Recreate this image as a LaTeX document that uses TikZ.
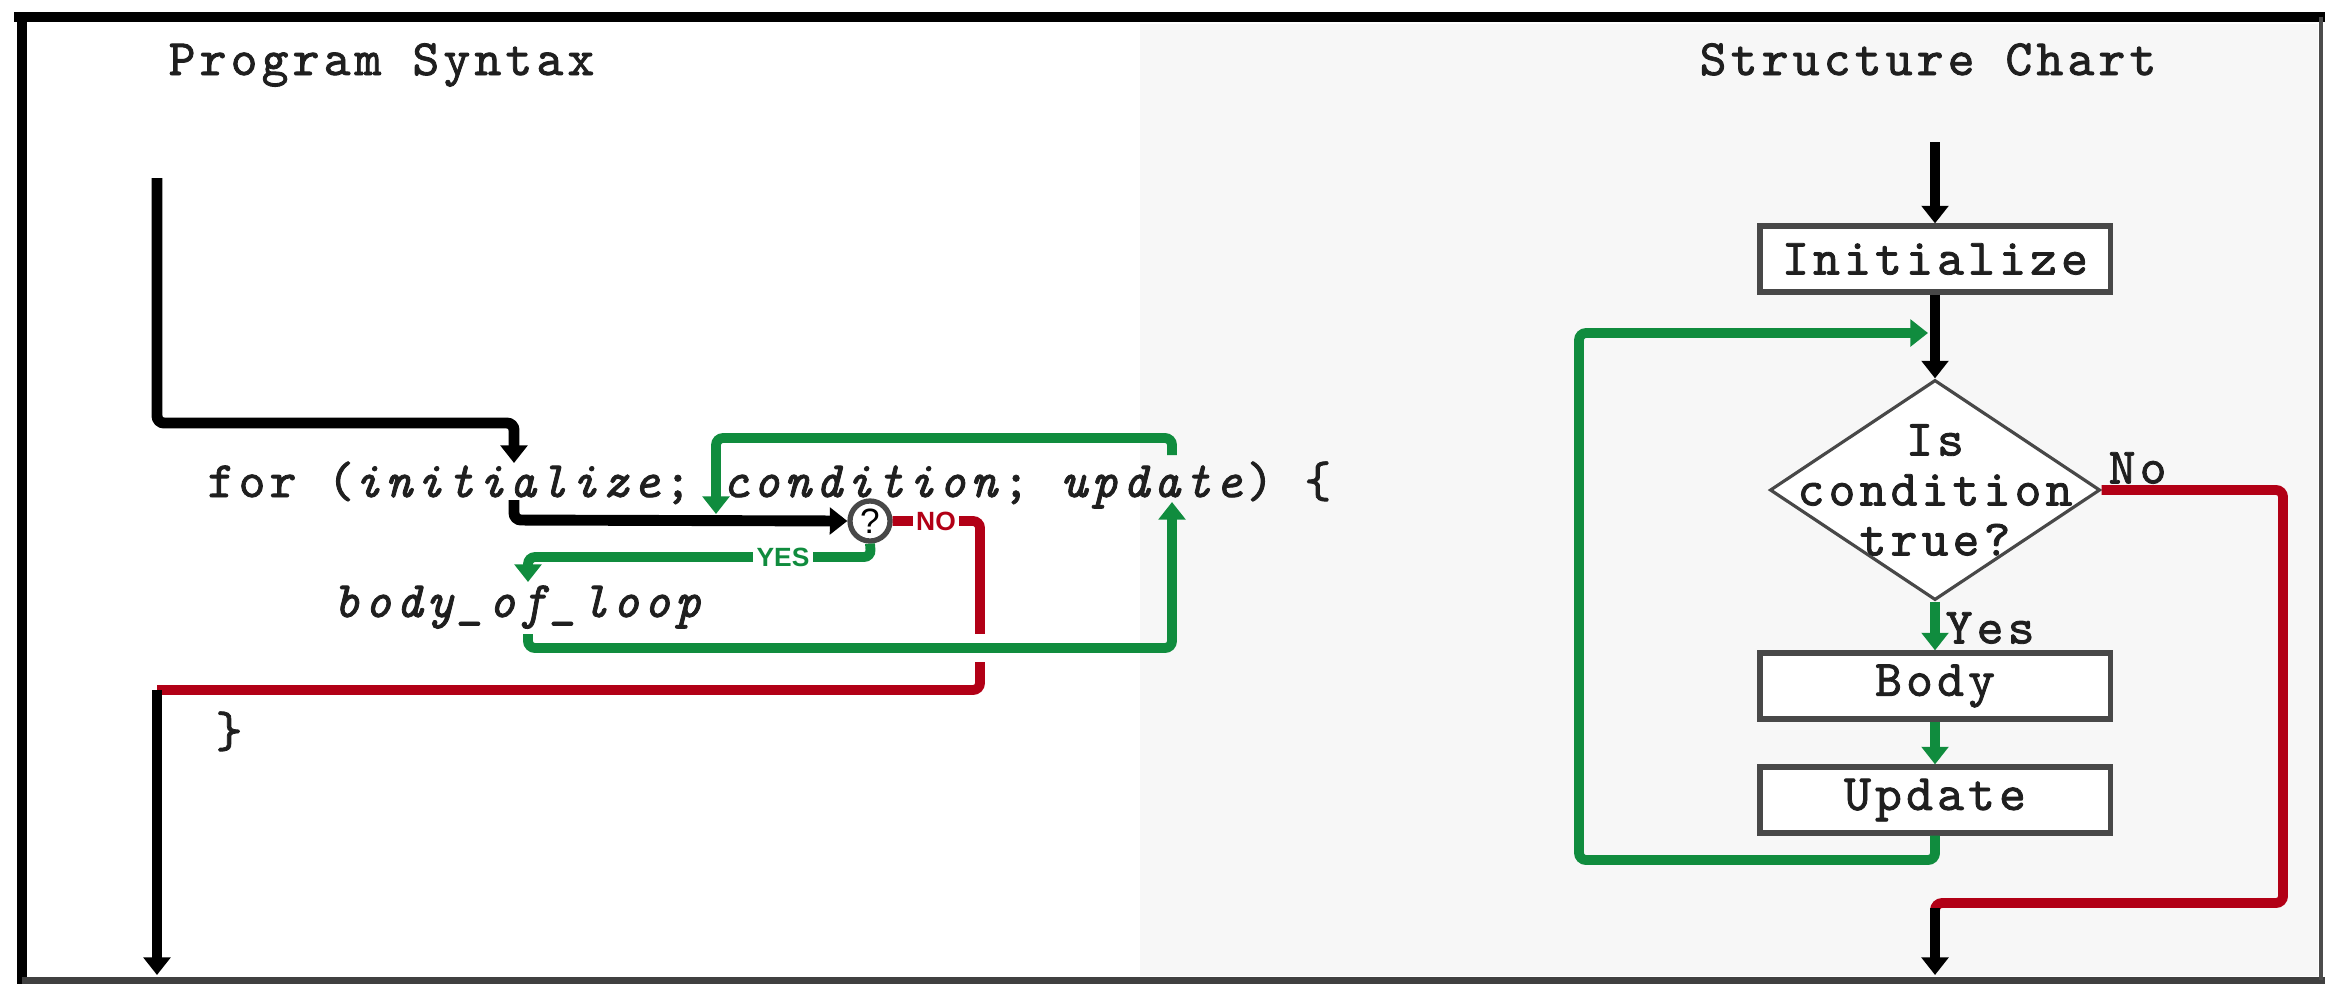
\documentclass[tikz,border=0pt]{standalone}
\usepackage{fontspec}
\usetikzlibrary{arrows.meta,shapes.geometric}
\newfontfamily\codefont{lmmono10-regular}[Extension=.otf,ItalicFont=lmmono10-italic,LetterSpace=8.3,FakeBold=1.6]
\newfontfamily\lblfont{Liberation Sans}
\definecolor{lgreen}{RGB}{16,140,62}
\definecolor{lred}{RGB}{178,0,22}
\definecolor{boxgray}{RGB}{72,72,72}
\begin{document}
\begin{tikzpicture}[x=0.01cm,y=-0.01cm,
  blk/.style={draw=black,line width=3.1pt,rounded corners=2pt},
  blkthin/.style={draw=black,line width=2.6pt},
  grn/.style={draw=lgreen,line width=2.8pt,rounded corners=2pt},
  rd/.style={draw=lred,line width=2.8pt,rounded corners=2pt},
  tipA/.style={-{Triangle[length=5pt,width=7.5pt]}},
  code/.style={font=\codefont\fontsize{14.5}{16}\selectfont,text=black!88,anchor=base west,inner sep=0pt},
  chart/.style={font=\codefont\fontsize{14.5}{16}\selectfont,text=black!88,inner sep=0pt},
  flowbox/.style={draw=boxgray,line width=1.5pt,minimum width=3.5cm,minimum height=0.66cm,inner sep=0pt,fill=white,text=black!88,font=\codefont\fontsize{14.5}{16}\selectfont},
  yn/.style={font=\lblfont\bfseries\fontsize{7.5}{8}\selectfont,inner sep=1pt,fill=white}
]
\useasboundingbox (0,0) rectangle (2325,984);
% faint background tint of the right panel
\fill[black!3] (1140,24) rectangle (2318,976);
% frame
\draw[black,line width=2.9pt] (14,17) -- (2325,17);
\draw[black,line width=2.9pt] (22,12) -- (22,984);
\draw[black!75,line width=2pt] (22,980) -- (2325,980);
\draw[black!70,line width=1pt] (2321,17) -- (2321,980);

% ---------------- left panel ----------------
\node[code] (hdrL) at (168,75) {Program Syntax};
\node[code] (forline) at (207,497) {for (\textit{initialize}; \textit{condition}; \textit{update}) \{};
\node[code] (body) at (333,617) {\textit{body\_of\_loop}};
\node[code] (close) at (215,747) {\}};
\node[circle,draw=boxgray,line width=1.5pt,minimum size=0.4cm,inner sep=0pt,fill=white,
      font=\lblfont\fontsize{10}{10}\selectfont] (q) at (870,521) {?};

\coordinate (inTop) at (157,178);
\coordinate (initIn) at (514,463);
\coordinate (initOut) at (514,500);
\coordinate (updTop) at (1172,455);
\coordinate (condIn) at (716,514);
\coordinate (bodyIn) at (528,582);
\coordinate (bodyOut) at (528,634);
\coordinate (updIn) at (1172,502);
\coordinate (exitL) at (157,690);
\coordinate (outL) at (157,975);

% entry
\draw[blk,tipA] (inTop) -- (157,423) -- (514,423) -- (initIn);
% after initialize to the test
\draw[blk,tipA] (initOut) -- (514,520) -- (q.west);
% NO branch
\draw[rd] (q.east) -- (980,521) -- (980,690) -- (exitL);
\node[yn,text=lred] (nolbl) at (936,521) {NO};
\draw[blk,sharp corners,tipA] (exitL) -- (outL);
% condition arrow from update
\draw[grn,tipA] (updTop) -- (1172,438) -- (716,438) -- (condIn);
% YES branch
\draw[grn,tipA] (q.south) -- (871,557) -- (528,557) -- (bodyIn);
\node[yn,text=lgreen] (yeslbl) at (783,557) {YES};
% body to update (crosses the red line)
\draw[white,line width=8pt] (962,648) -- (998,648);
\draw[grn,tipA] (bodyOut) -- (528,648) -- (1172,648) -- (updIn);

% ---------------- right panel ----------------
\node[chart,anchor=base] (hdrR) at (1928,75) {Structure Chart};
\node[flowbox] (init) at (1935,259) {Initialize};
\node[diamond,draw=boxgray,line width=0.9pt,minimum width=3.3cm,minimum height=2.2cm,
      inner sep=0pt,fill=white] (dia) at (1935,490) {};
\node[chart,align=center,font=\codefont\fontsize{14.5}{14.2}\selectfont] (diatxt) at (1935,490) {Is\\condition\\true?};
\node[flowbox] (bodybox) at (1935,686) {Body};
\node[flowbox] (updbox) at (1935,800) {Update};

\coordinate (topR) at (1935,142);
\coordinate (joinR) at (1928,333);
\coordinate (exitR) at (1935,908);
\coordinate (outR) at (1935,975);

\draw[blkthin,tipA] (topR) -- (init.north);
\draw[blkthin,tipA] (init.south) -- (dia.north);
\draw[grn,tipA] (updbox.south) -- (1935,860) -- (1579,860) -- (1579,333) -- (joinR);
\draw[grn,sharp corners,tipA] (dia.south) -- (bodybox.north);
\node[chart,anchor=west] (yesR) at (1945,628) {Yes};
\draw[grn,sharp corners,tipA] (bodybox.south) -- (updbox.north);
\draw[rd] (dia.east) -- (2283,490) -- (2283,903) -- (1935,903) -- (exitR);
\node[chart,anchor=west] (noR) at (2108,468) {No};
\draw[blkthin,tipA] (exitR) -- (outR);
\end{tikzpicture}
\end{document}
